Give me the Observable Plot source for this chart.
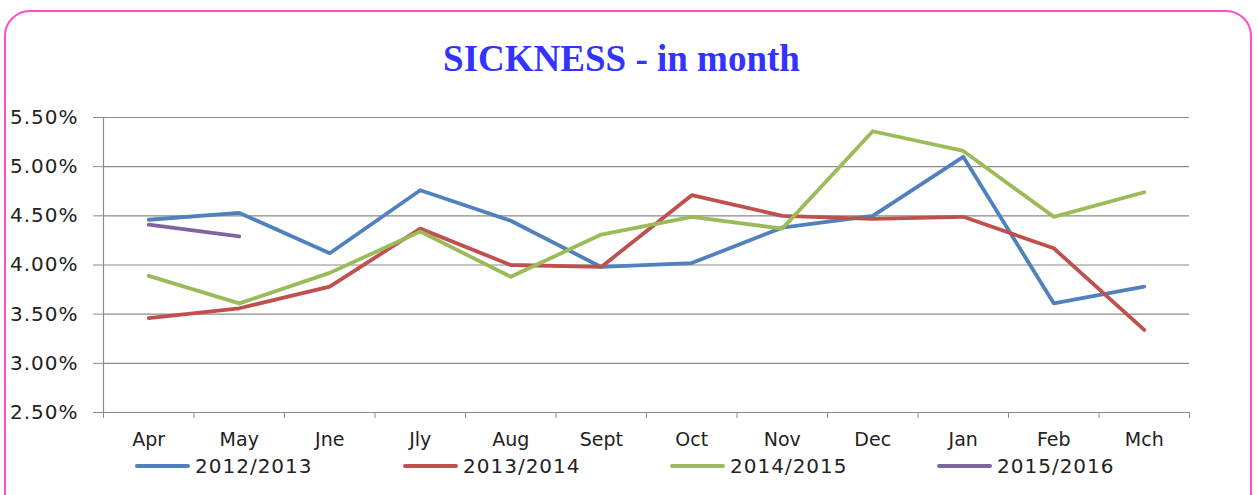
<!DOCTYPE html>
<html>
<head>
<meta charset="utf-8">
<script src="https://cdn.jsdelivr.net/npm/d3@7"></script>
<script src="https://cdn.jsdelivr.net/npm/@observablehq/plot@0.6"></script>
<style>
  html, body { margin: 0; padding: 0; background: #fff; }
  #page { position: relative; width: 1257px; height: 495px; overflow: hidden; background: #fff; }
  #frame { position: absolute; left: 4px; top: 10px; width: 1248px; height: 520px; border: 2px solid #ff4dcc; border-radius: 26px; box-sizing: border-box; }
  #title { position: absolute; left: 0; top: 37px; width: 1243px; text-align: center; font-family: "Liberation Serif", "Times New Roman", serif; font-weight: bold; font-size: 37px; color: #3333ff; }
  #chart { position: absolute; left: 0; top: 100px; }
  #chart .yax text { letter-spacing: 1px; }
  #legend { position: absolute; left: 0; top: 454px; width: 1257px; height: 26px; font-family: "DejaVu Sans", sans-serif; font-size: 20px; letter-spacing: 1px; color: #222; }
  .item { position: absolute; top: 0; display: flex; align-items: center; height: 24px; }
  .swatch { width: 55px; height: 4px; border-radius: 2px; margin-right: 5px; }
</style>
</head>
<body>
<div id="page">
  <div id="frame"></div>
  <div id="title">SICKNESS - in month</div>
  <div id="chart"></div>
  <div id="legend"></div>
</div>
<script>
const months = ["Apr", "May", "Jne", "Jly", "Aug", "Sept", "Oct", "Nov", "Dec", "Jan", "Feb", "Mch"];
const seriesNames = ["2012/2013", "2013/2014", "2014/2015", "2015/2016"];
const seriesColors = ["#4f81bd", "#c0504d", "#9bbb59", "#8064a2"];
const v2012 = [4.46, 4.53, 4.12, 4.76, 4.45, 3.98, 4.02, 4.38, 4.50, 5.10, 3.61, 3.78];
const v2013 = [3.46, 3.56, 3.78, 4.37, 4.00, 3.98, 4.71, 4.50, 4.47, 4.49, 4.17, 3.34];
const v2014 = [3.89, 3.61, 3.92, 4.34, 3.88, 4.31, 4.49, 4.37, 5.36, 5.16, 4.49, 4.74];
const v2015 = [4.41, 4.29];
const yTicks = [2.5, 3.0, 3.5, 4.0, 4.5, 5.0, 5.5];

const allValues = [v2012, v2013, v2014, v2015];
const data = [];
allValues.forEach((vals, s) => {
  vals.forEach((v, i) => data.push({series: seriesNames[s], i: i + 0.5, v}));
});

const axisFont = "DejaVu Sans, sans-serif";
const gridColor = "#8a8a8a";

const chart = Plot.plot({
  width: 1257,
  height: 380,
  marginLeft: 103,
  marginRight: 68,
  marginTop: 17,
  marginBottom: 68,
  style: { fontFamily: axisFont, background: "transparent", color: "#222" },
  x: { type: "linear", domain: [0, 12] },
  y: { domain: [2.5, 5.5] },
  color: { domain: seriesNames, range: seriesColors },
  marks: [
    Plot.gridY(yTicks, { stroke: gridColor, strokeOpacity: 1, strokeWidth: 1.2 }),
    Plot.ruleX([0], { stroke: gridColor, strokeWidth: 1.2 }),
    Plot.axisY({ ticks: yTicks, tickSize: 10, tickPadding: 15, tickFormat: d => d.toFixed(2) + "%", fontSize: 20, stroke: gridColor, fill: "#222", label: null, className: "yax" }),
    Plot.axisX({ ticks: d3.range(13), tickSize: 6, tickFormat: () => "", stroke: gridColor, label: null }),
    Plot.axisX({ ticks: d3.range(12).map(i => i + 0.5), tickSize: 0, tickPadding: 20, tickFormat: d => months[Math.round(d - 0.5)], fontSize: 19, fill: "#222", label: null }),
    Plot.line(data, { x: "i", y: "v", z: "series", stroke: "series", strokeWidth: 3.8, strokeLinejoin: "round", strokeLinecap: "round" })
  ]
});
document.getElementById("chart").appendChild(chart);

const legend = document.getElementById("legend");
const legendX = [135, 403, 670, 937];
seriesNames.forEach((name, s) => {
  const item = document.createElement("div");
  item.className = "item";
  item.style.left = legendX[s] + "px";
  const sw = document.createElement("div");
  sw.className = "swatch";
  sw.style.background = seriesColors[s];
  const tx = document.createElement("span");
  tx.textContent = name;
  item.appendChild(sw);
  item.appendChild(tx);
  legend.appendChild(item);
});
</script>
</body>
</html>
